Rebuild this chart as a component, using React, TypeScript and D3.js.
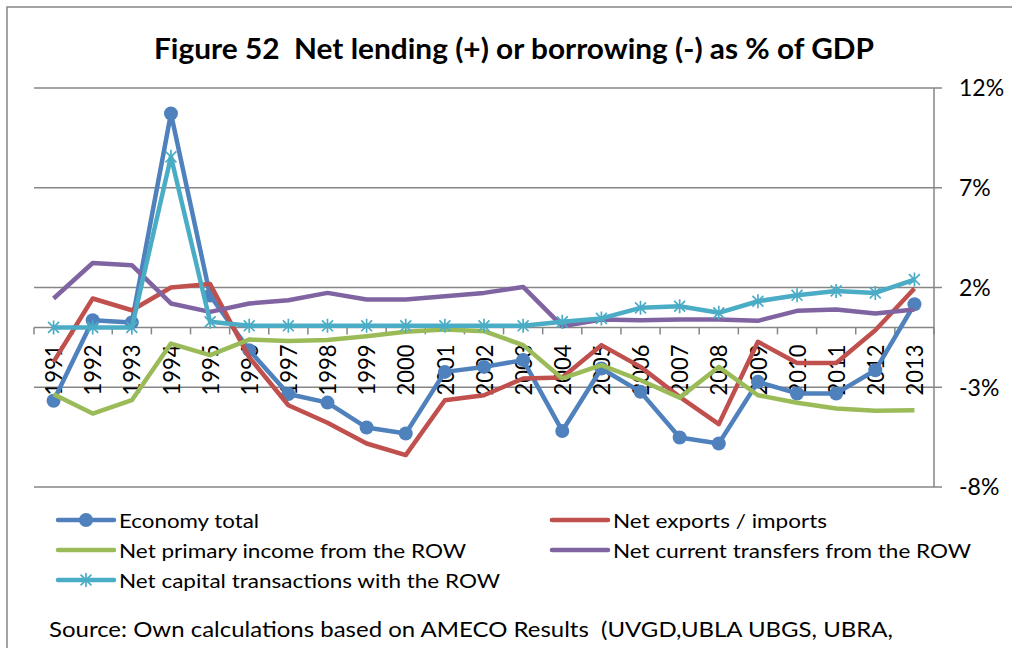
import React, { useEffect, useRef } from 'react';
import * as d3 from 'd3';

// Years on the category axis
const years = [
  '1991', '1992', '1993', '1994', '1995', '1996', '1997', '1998', '1999', '2000', '2001', '2002',
  '2003', '2004', '2005', '2006', '2007', '2008', '2009', '2010', '2011', '2012', '2013',
];

// Series values, % of GDP
const economyTotal = [
  -3.68, 0.36, 0.25, 10.72, 1.6, -1.14, -3.34, -3.77, -5.02, -5.32, -2.23, -1.98,
  -1.64, -5.19, -2.06, -3.23, -5.52, -5.82, -2.73, -3.31, -3.31, -2.15, 1.16,
];
const netExports = [
  -1.73, 1.45, 0.86, 2.0, 2.17, -1.5, -3.9, -4.78, -5.82, -6.4, -3.65, -3.4,
  -2.56, -2.51, -0.89, -1.98, -3.48, -4.85, -0.72, -1.78, -1.78, -0.14, 1.95,
];
const primaryIncome = [
  -3.35, -4.32, -3.65, -0.81, -1.39, -0.61, -0.68, -0.63, -0.44, -0.22, -0.1, -0.19,
  -0.89, -2.56, -1.89, -2.65, -3.52, -1.98, -3.4, -3.78, -4.07, -4.18, -4.15,
];
const currentTransfers = [
  1.45, 3.23, 3.12, 1.2, 0.78, 1.2, 1.36, 1.73, 1.4, 1.4, 1.56, 1.73,
  2.03, 0.06, 0.4, 0.36, 0.39, 0.39, 0.33, 0.83, 0.9, 0.7, 0.9,
];
const capitalTransactions = [
  0, 0, 0, 8.55, 0.28, 0.08, 0.08, 0.08, 0.08, 0.08, 0.08, 0.08,
  0.08, 0.28, 0.45, 0.98, 1.06, 0.73, 1.31, 1.61, 1.83, 1.73, 2.4,
];

const yTicks = [-8, -3, 2, 7, 12];

type Marker = 'circle' | 'star' | 'none';

interface Series {
  name: string;
  values: number[];
  color: string;
  marker: Marker;
}

const seriesList: Series[] = [
  { name: 'Economy total', values: economyTotal, color: '#4F81BD', marker: 'circle' },
  { name: 'Net exports / imports', values: netExports, color: '#C0504D', marker: 'none' },
  { name: 'Net primary income from the ROW', values: primaryIncome, color: '#9BBB59', marker: 'none' },
  { name: 'Net current transfers from the ROW', values: currentTransfers, color: '#8064A2', marker: 'none' },
  { name: 'Net capital transactions with the ROW', values: capitalTransactions, color: '#4BACC6', marker: 'star' },
];

// legend text widths (px) to match the reference's wide rendering
const legendWidths = [140, 214, 347, 358, 381];

const FONT = "Lato, 'Open Sans', sans-serif";
const GRID = '#868686';

const W = 1012;
const H = 648;

const drawStar = (g: d3.Selection<SVGGElement, unknown, null, undefined>, x: number, y: number, color: string) => {
  const s = 7;
  const d = s * 0.78;
  g.append('path')
    .attr('d', `M${x},${y - s}L${x},${y + s}M${x - d},${y - d}L${x + d},${y + d}M${x - d},${y + d}L${x + d},${y - d}`)
    .attr('stroke', color)
    .attr('stroke-width', 1.7)
    .attr('fill', 'none');
};

const App: React.FC = () => {
  const svgRef = useRef<SVGSVGElement>(null);

  useEffect(() => {
    if (!svgRef.current) return;
    const svg = d3.select(svgRef.current);
    svg.selectAll('*').remove();

    // Outer frame
    svg.append('rect')
      .attr('x', 7)
      .attr('y', 7)
      .attr('width', 1100)
      .attr('height', 700)
      .attr('fill', 'white')
      .attr('stroke', GRID)
      .attr('stroke-width', 1.5);

    // Title
    svg.append('text')
      .attr('x', 514)
      .attr('y', 59)
      .attr('text-anchor', 'middle')
      .attr('textLength', 720)
      .attr('lengthAdjust', 'spacingAndGlyphs')
      .style('white-space', 'pre')
      .style('font-family', FONT)
      .style('font-weight', '700')
      .style('font-size', '29px')
      .style('fill', '#000')
      .text('Figure 52  Net lending (+) or borrowing (-) as % of GDP');

    const left = 34;
    const right = 934;

    const x = d3.scaleBand<string>().domain(years).range([left, right]).padding(0);
    const y = d3.scaleLinear().domain([-8, 12]).range([487, 88]);
    const cx = (yr: string) => (x(yr) || 0) + x.bandwidth() / 2;

    // Horizontal gridlines
    svg.append('g')
      .selectAll('line')
      .data(yTicks)
      .join('line')
      .attr('x1', left)
      .attr('x2', right + 8)
      .attr('y1', d => y(d))
      .attr('y2', d => y(d))
      .attr('stroke', GRID)
      .attr('stroke-width', 1.5);

    // Right value axis
    svg.append('line')
      .attr('x1', right)
      .attr('x2', right)
      .attr('y1', y(12))
      .attr('y2', y(-8))
      .attr('stroke', GRID)
      .attr('stroke-width', 1.5);

    svg.append('g')
      .selectAll('text')
      .data(yTicks)
      .join('text')
      .attr('x', 959)
      .attr('y', d => y(d))
      .attr('dy', '0.36em')
      .style('font-family', FONT)
      .style('font-size', '23px')
      .style('fill', '#000')
      .text(d => `${d}%`);

    // Category axis at zero
    const zeroY = y(0);
    svg.append('line')
      .attr('x1', left)
      .attr('x2', right)
      .attr('y1', zeroY)
      .attr('y2', zeroY)
      .attr('stroke', GRID)
      .attr('stroke-width', 1.5);

    const boundaries = years.map(yr => x(yr) || 0).concat([right]);
    svg.append('g')
      .selectAll('line')
      .data(boundaries)
      .join('line')
      .attr('x1', d => d)
      .attr('x2', d => d)
      .attr('y1', zeroY)
      .attr('y2', zeroY + 7)
      .attr('stroke', GRID)
      .attr('stroke-width', 1.5);

    svg.append('g')
      .selectAll('text')
      .data(years)
      .join('text')
      .attr('transform', d => `translate(${cx(d)},${zeroY + 17}) rotate(-90)`)
      .attr('text-anchor', 'end')
      .attr('dy', '0.36em')
      .attr('textLength', 51)
      .attr('lengthAdjust', 'spacingAndGlyphs')
      .style('font-family', FONT)
      .style('font-size', '24px')
      .style('fill', '#000')
      .text(d => d);

    // Lines
    const line = d3.line<number>()
      .x((_, i) => cx(years[i]))
      .y(d => y(d));

    seriesList.forEach(s => {
      svg.append('path')
        .datum(s.values)
        .attr('fill', 'none')
        .attr('stroke', s.color)
        .attr('stroke-width', 4.5)
        .attr('stroke-linejoin', 'round')
        .attr('d', line);

      const mg = svg.append('g');
      if (s.marker === 'circle') {
        mg.selectAll('circle')
          .data(s.values)
          .join('circle')
          .attr('cx', (_, i) => cx(years[i]))
          .attr('cy', d => y(d))
          .attr('r', 7)
          .attr('fill', s.color);
      } else if (s.marker === 'star') {
        s.values.forEach((v, i) => drawStar(mg, cx(years[i]), y(v), s.color));
      }
    });

    // Legend
    const legendPos = [
      { lx: 58, ty: 528 },
      { lx: 552, ty: 528 },
      { lx: 58, ty: 558 },
      { lx: 552, ty: 558 },
      { lx: 58, ty: 588 },
    ];

    seriesList.forEach((s, i) => {
      const p = legendPos[i];
      const row = svg.append('g');
      const ly = p.ty - 8;
      row.append('line')
        .attr('x1', p.lx)
        .attr('x2', p.lx + 56)
        .attr('y1', ly)
        .attr('y2', ly)
        .attr('stroke', s.color)
        .attr('stroke-width', 4.5)
        .attr('stroke-linecap', 'round');
      if (s.marker === 'circle') {
        row.append('circle')
          .attr('cx', p.lx + 28)
          .attr('cy', ly)
          .attr('r', 7)
          .attr('fill', s.color);
      } else if (s.marker === 'star') {
        drawStar(row, p.lx + 28, ly, s.color);
      }
      row.append('text')
        .attr('x', p.lx + 61)
        .attr('y', p.ty)
        .attr('textLength', legendWidths[i])
        .attr('lengthAdjust', 'spacingAndGlyphs')
        .style('font-family', FONT)
        .style('font-size', '20px')
        .style('fill', '#000')
        .text(s.name);
    });

    // Source note
    svg.append('text')
      .attr('x', 49)
      .attr('y', 637)
      .attr('textLength', 844)
      .attr('lengthAdjust', 'spacingAndGlyphs')
      .style('white-space', 'pre')
      .style('font-family', FONT)
      .style('font-size', '22px')
      .style('fill', '#000')
      .text('Source: Own calculations based on AMECO Results  (UVGD,UBLA UBGS, UBRA,');
  }, []);

  return (
    <div style={{ position: 'absolute', left: 0, top: 0 }}>
      <svg ref={svgRef} width={W} height={H} style={{ display: 'block', background: 'white' }} />
    </div>
  );
};

export default App;
